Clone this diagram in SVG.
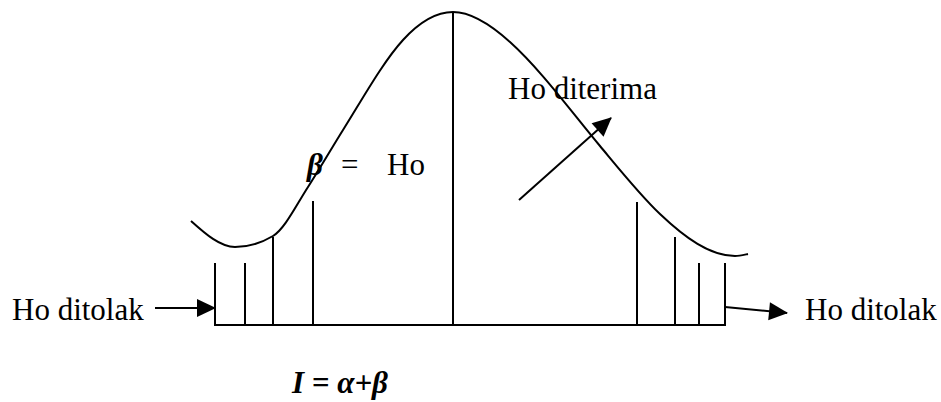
<svg xmlns="http://www.w3.org/2000/svg" width="941" height="402" viewBox="0 0 941 402">
<style>
.ln{stroke:#000;stroke-width:2;fill:none}
.t{font-family:"Liberation Serif","Times New Roman",serif;font-size:31px;fill:#000}
.bi{font-weight:bold;font-style:italic}
</style>
<defs>
<marker id="ah" markerUnits="userSpaceOnUse" markerWidth="20" markerHeight="20" refX="18" refY="9" orient="auto" overflow="visible">
<path d="M0,0 L19,9 L0,18 z" fill="#000"/>
</marker>
</defs>
<rect width="941" height="402" fill="#fff"/>
<g id="curve">
<path class="ln" d="M191,221 C205.7,234.2 220.3,247 235,247 C247.7,247 260.3,243.6 273,236 C284.7,229 296.3,205.1 308,187 C319.7,168.9 331.3,148.7 343,130 C363,98 383,62 403,40 C419.7,21.7 436.3,12 453,12 C472,12 491,24.9 510,42 C540,69 570,110 600,146 C620,170 640,195 660,214 C685,237.75 710,256 735,256 C739.3,256 743.7,254.9 748,254"/>
</g>
<g id="regions">
<line class="ln" x1="214" y1="325" x2="726" y2="325"/>
<line class="ln" x1="215" y1="263" x2="215" y2="325"/>
<line class="ln" x1="245" y1="263" x2="245" y2="325"/>
<line class="ln" x1="273" y1="237" x2="273" y2="325"/>
<line class="ln" x1="313" y1="201" x2="313" y2="325"/>
<line class="ln" x1="453" y1="12" x2="453" y2="325"/>
<line class="ln" x1="637" y1="202" x2="637" y2="325"/>
<line class="ln" x1="675" y1="237" x2="675" y2="325"/>
<line class="ln" x1="699" y1="263" x2="699" y2="325"/>
<line class="ln" x1="725" y1="263" x2="725" y2="325"/>
</g>
<g id="connectors">
<line class="ln" x1="155" y1="308" x2="215" y2="308" marker-end="url(#ah)"/>
<line class="ln" x1="725" y1="307" x2="787" y2="313" marker-end="url(#ah)"/>
<line class="ln" x1="519" y1="200" x2="611" y2="118" marker-end="url(#ah)"/>
</g>
<g id="label-left"><text class="t" x="12" y="320">Ho ditolak</text></g>
<g id="label-right"><text class="t" x="805" y="320">Ho ditolak</text></g>
<g id="label-accept"><text class="t" x="508" y="99">Ho diterima</text></g>
<g id="label-beta"><text class="t" y="175"><tspan class="bi" x="307">β</tspan><tspan x="341">=</tspan><tspan x="387">Ho</tspan></text></g>
<g id="label-formula"><text class="t bi" x="292" y="393">I = α+β</text></g>
</svg>
